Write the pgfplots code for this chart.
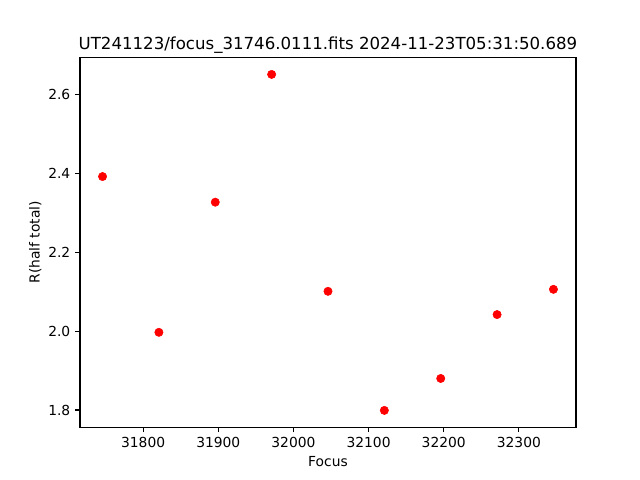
\documentclass[border=0pt]{standalone}
\usepackage{fontspec}
\setmainfont{DejaVu Sans}
\usepackage{pgfplots}
\pgfplotsset{compat=1.18}
\begin{document}
\begin{tikzpicture}
\useasboundingbox (-0.8in,-0.528in) rectangle (5.6in,4.272in);
\begin{axis}[
  scale only axis,
  width=4.96in, height=3.696in,
  xmin=31716, xmax=32376,
  ymin=1.7564, ymax=2.6936,
  axis line style={line width=0.8pt},
  tick align=outside,
  xtick pos=bottom, ytick pos=left,
  tick style={line width=0.8pt, black},
  major tick length=3.5pt,
  xtick={31800,31900,32000,32100,32200,32300},
  ytick={1.8,2.0,2.2,2.4,2.6},
  scaled ticks=false,
  xticklabel style={/pgf/number format/set thousands separator={}, /pgf/number format/assume math mode=true, font=\fontsize{10}{12}\selectfont},
  yticklabel style={/pgf/number format/fixed, /pgf/number format/fixed zerofill, /pgf/number format/precision=1, /pgf/number format/assume math mode=true, font=\fontsize{10}{12}\selectfont},
  xlabel={Focus},
  ylabel={R(half total)},
  ylabel style={yshift=-2pt},
  label style={font=\fontsize{10}{12}\selectfont},
  title={UT241123/focus\_31746.0111.fits 2024-11-23T05:31:50.689},
  title style={font=\fontsize{12}{14}\selectfont, at={(0.5,1)}, anchor=base, yshift=-0.5pt},
]
\addplot[only marks, mark=*, mark size=3pt, color=red, mark options={draw=red, fill=red}] coordinates {
(31746,2.392) (31821,1.997) (31896,2.327) (31971,2.651) (32046,2.101)
(32121,1.799) (32196,1.880) (32271,2.042) (32346,2.106)
};
\end{axis}
\end{tikzpicture}
\end{document}
